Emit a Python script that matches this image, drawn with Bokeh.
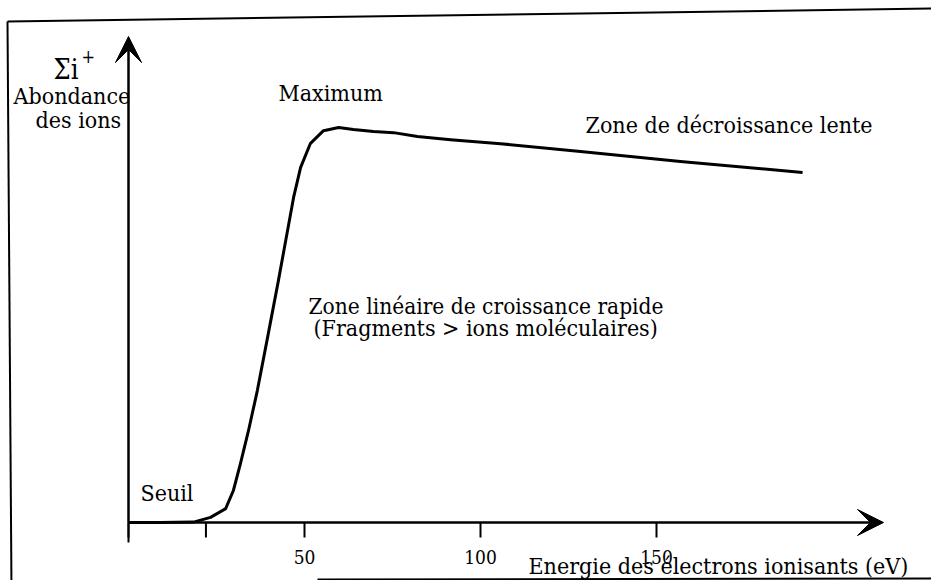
from bokeh.plotting import figure
from bokeh.models import Arrow, VeeHead, Label, Range1d
from bokeh.core.properties import value
from bokeh.embed import file_html
from bokeh.resources import INLINE

# ---- data ----
energy_ev = [0, 9, 18.5, 23.3, 27.6, 29.8, 31.8, 34.1, 36.6, 39.5, 42.6, 46.9, 48.9,
             51.7, 55.4, 59.7, 63.9, 69.6, 75.3, 82.1, 91.5, 105.7, 128.4, 156.8, 191.5]
abundance = [0, 0, 0.1, 1.3, 3.5, 8.1, 14.9, 23.3, 33.4, 46.8, 61.3, 82.3, 89.9,
             96.0, 99.2, 100.0, 99.5, 99.0, 98.7, 97.7, 96.9, 95.9, 93.9, 91.4, 88.6]
tick_values = [0, 22, 50, 100, 150]
tick_labels = ["", "", "50", "100", "150"]

# ---- layout (picture pixels -> data units) ----
W, H = 931, 580
X0, SX = 128, 3.52
Y0, SY = 522, 3.95


def dx(px):
    return (px - X0) / SX


def dy(py):
    return (Y0 - py) / SY


FONT = "DejaVu Serif Condensed"

p = figure(width=W, height=H, output_backend="svg", toolbar_location=None, tools="",
           x_range=Range1d(dx(0), dx(W)), y_range=Range1d(dy(H), dy(0)),
           x_axis_location=None, y_axis_location=None, min_border=0,
           outline_line_color=None, background_fill_color="white",
           border_fill_color="white")
p.xgrid.visible = False
p.ygrid.visible = False

# frame box (scan border)
p.line([dx(7), dx(939)], [dy(21), dy(8)], line_width=2, color="black")
p.line([dx(7), dx(11)], [dy(21), dy(590)], line_width=2, color="black")
p.line([dx(317), dx(939)], [dy(579), dy(578)], line_width=2, color="black")

# axes with arrows
p.add_layout(Arrow(end=VeeHead(size=26, fill_color="black", line_color="black"),
                   x_start=0, y_start=0, x_end=dx(883), y_end=0,
                   line_width=2.5, line_color="black"))
p.add_layout(Arrow(end=VeeHead(size=26, fill_color="black", line_color="black"),
                   x_start=0, y_start=0, x_end=0, y_end=dy(36),
                   line_width=2.5, line_color="black"))

# ticks
tick_len = dy(537)
p.segment(x0=tick_values, y0=[0] * len(tick_values), x1=tick_values,
          y1=[tick_len] * len(tick_values), line_width=2, color="black")
p.segment(x0=[0], y0=[0], x1=[0], y1=[dy(542)], line_width=2, color="black")
p.text(x=tick_values, y=[dy(556)] * len(tick_values), text=tick_labels,
       text_font=value(FONT), text_font_size="19px", text_align="center",
       text_baseline="middle", text_color="black")

# curve
p.line(energy_ev, abundance, line_width=3, color="black", line_join="round")


def lab(txt, px, py, size=23, font=FONT):
    # py is the baseline in the picture; place by the middle of the em box
    p.add_layout(Label(x=dx(px), y=dy(py - 0.34 * size), text=txt, text_font=font,
                       text_font_size=f"{size}px", text_align="left",
                       text_baseline="middle", text_color="black"))


lab("\u03a3i", 53, 78, size=27)
lab("+", 81, 62, size=18)
lab("Abondance", 13, 103)
lab("des ions", 35, 127)
lab("Maximum", 278, 100)
lab("Zone de d\u00e9croissance lente", 585, 132)
lab("Zone lin\u00e9aire de croissance rapide", 308, 313, size=22.5)
lab("(Fragments > ions mol\u00e9culaires)", 313, 335)
lab("Seuil", 140, 500)
lab("Energie des \u00e9lectrons ionisants (eV)", 528, 573)

open("out.html", "w").write(file_html(p, INLINE))
